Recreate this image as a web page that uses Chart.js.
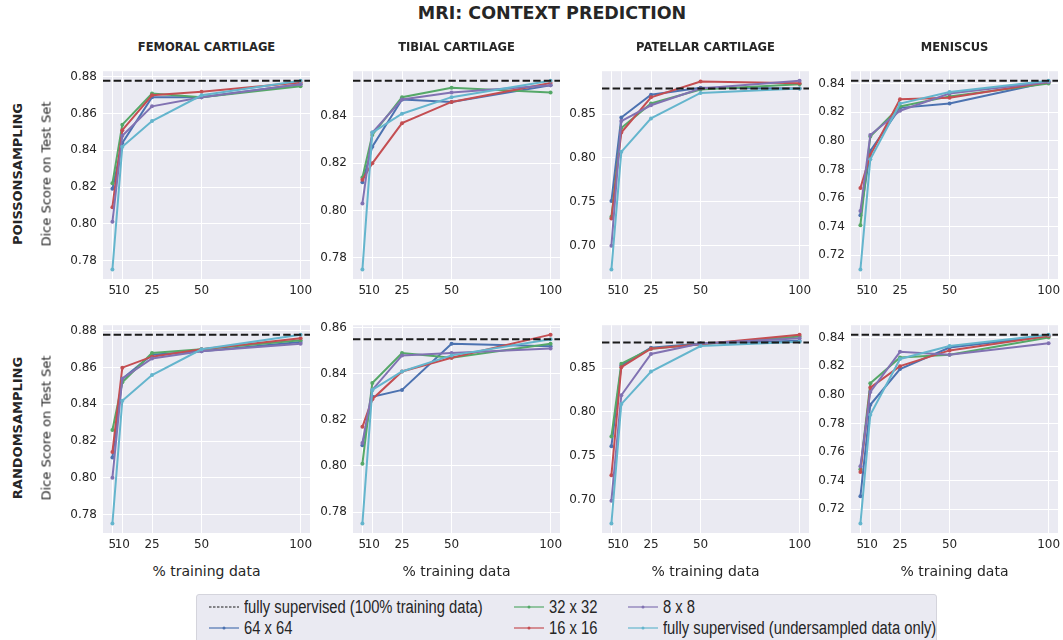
<!DOCTYPE html>
<html>
<head>
<meta charset="utf-8">
<script src="https://cdn.jsdelivr.net/npm/chart.js@4/dist/chart.umd.min.js"></script>
<style>
  body { margin: 0; width: 1063px; height: 640px; background: #fff; position: relative; overflow: hidden;
         font-family: 'DejaVu Sans', sans-serif; color: #262626; }
  .txt { position: absolute; white-space: nowrap; transform: translate(-50%, -50%); }
  .rot { transform: translate(-50%, -50%) rotate(-90deg); }
  canvas { position: absolute; }
  #legend { position: absolute; left: 196px; top: 594px; width: 741px; height: 50px; box-sizing: border-box;
            background: #EAEAF2; border: 1px solid #D4D4DC; border-radius: 3px;
            font-family: 'Liberation Sans', Arial, sans-serif; font-size: 18px; color: #262626; }
  .item { position: absolute; height: 20px; line-height: 20px; }
  .item svg { position: absolute; left: 0; top: 0; }
  .item span { position: absolute; left: 35px; top: 0; white-space: nowrap;
               transform: scaleX(0.82); transform-origin: left center; }
</style>
</head>
<body>
<div class="txt" style="left:552px;top:13px;font-weight:bold;font-size:17.5px">MRI: CONTEXT PREDICTION</div>
<div id="legend"></div>

<script>
// x positions (% training data) and labels
const xPct = [5, 10, 25, 50, 100];
const organs = ['FEMORAL CARTILAGE', 'TIBIAL CARTILAGE', 'PATELLAR CARTILAGE', 'MENISCUS'];
const samplings = ['POISSONSAMPLING', 'RANDOMSAMPLING'];
const seriesNames = ['64 x 64', '32 x 32', '16 x 16', '8 x 8', 'fully supervised (undersampled data only)'];
const fullyName = 'fully supervised (100% training data)';
const seriesColors = ['#4C72B0', '#55A868', '#C44E52', '#8172B2', '#64B5CD'];

// fully supervised reference (100% training data), one per organ
const fullyValue = [0.878, 0.855, 0.879, 0.842];

// rows: 64x64, 32x32, 16x16, 8x8, fully supervised (undersampled)
const poissonFemoral = [
  [0.819, 0.844, 0.869, 0.869, 0.876],
  [0.822, 0.854, 0.871, 0.869, 0.875],
  [0.809, 0.851, 0.870, 0.872, 0.877],
  [0.801, 0.848, 0.864, 0.869, 0.876],
  [0.775, 0.842, 0.856, 0.870, 0.878]
];
const poissonTibial = [
  [0.812, 0.827, 0.847, 0.846, 0.853],
  [0.814, 0.832, 0.848, 0.852, 0.850],
  [0.813, 0.820, 0.837, 0.846, 0.854],
  [0.803, 0.833, 0.847, 0.850, 0.853],
  [0.775, 0.833, 0.841, 0.848, 0.855]
];
const poissonPatellar = [
  [0.751, 0.846, 0.872, 0.880, 0.879],
  [0.733, 0.834, 0.862, 0.878, 0.884],
  [0.731, 0.829, 0.869, 0.887, 0.885],
  [0.700, 0.842, 0.860, 0.879, 0.888],
  [0.673, 0.807, 0.845, 0.874, 0.879]
];
const poissonMeniscus = [
  [0.748, 0.793, 0.823, 0.826, 0.841],
  [0.741, 0.803, 0.824, 0.831, 0.840],
  [0.767, 0.790, 0.829, 0.830, 0.841],
  [0.751, 0.804, 0.821, 0.833, 0.841],
  [0.710, 0.787, 0.826, 0.834, 0.842]
];
const randomFemoral = [
  [0.811, 0.854, 0.867, 0.869, 0.874],
  [0.826, 0.852, 0.868, 0.870, 0.875],
  [0.814, 0.860, 0.866, 0.870, 0.876],
  [0.800, 0.854, 0.865, 0.869, 0.873],
  [0.775, 0.842, 0.856, 0.870, 0.878]
];
const randomTibial = [
  [0.809, 0.830, 0.833, 0.853, 0.852],
  [0.801, 0.836, 0.849, 0.847, 0.853],
  [0.817, 0.829, 0.841, 0.847, 0.857],
  [0.810, 0.833, 0.848, 0.849, 0.851],
  [0.775, 0.833, 0.841, 0.848, 0.855]
];
const randomPatellar = [
  [0.761, 0.853, 0.873, 0.878, 0.881],
  [0.772, 0.855, 0.872, 0.877, 0.886],
  [0.728, 0.851, 0.872, 0.877, 0.888],
  [0.699, 0.819, 0.866, 0.878, 0.884],
  [0.673, 0.809, 0.846, 0.875, 0.880]
];
const randomMeniscus = [
  [0.729, 0.793, 0.818, 0.833, 0.841],
  [0.748, 0.808, 0.826, 0.828, 0.840],
  [0.746, 0.805, 0.820, 0.831, 0.841],
  [0.750, 0.802, 0.830, 0.828, 0.836],
  [0.710, 0.786, 0.825, 0.834, 0.842]
];

// y tick labels per panel
const ticksFemoral = [0.78, 0.80, 0.82, 0.84, 0.86, 0.88];
const ticksTibialTop = [0.78, 0.80, 0.82, 0.84];
const ticksTibialBottom = [0.78, 0.80, 0.82, 0.84, 0.86];
const ticksPatellar = [0.70, 0.75, 0.80, 0.85];
const ticksMeniscus = [0.72, 0.74, 0.76, 0.78, 0.80, 0.82, 0.84];

const panelValues = [
  [poissonFemoral, poissonTibial, poissonPatellar, poissonMeniscus],
  [randomFemoral, randomTibial, randomPatellar, randomMeniscus]
];
const panelTicks = [
  [ticksFemoral, ticksTibialTop, ticksPatellar, ticksMeniscus],
  [ticksFemoral, ticksTibialBottom, ticksPatellar, ticksMeniscus]
];

// layout of the plot areas
const colLeft = [103, 353, 602, 851];
const rowTop = [68, 322];
const plotW = 207, plotH = 211;
const padL = 52, padT = 10, padR = 14, padB = 24;
const textColor = '#262626';
const tickFont = { family: 'DejaVu Sans', size: 12 };

// matplotlib-like 5% margins
const xPad = (Math.max(...xPct) - Math.min(...xPct)) * 0.05;
const xMin = Math.min(...xPct) - xPad, xMax = Math.max(...xPct) + xPad;

const bgPlugin = {
  id: 'bg',
  beforeDraw(chart) {
    const a = chart.chartArea, c = chart.ctx;
    c.save();
    c.fillStyle = '#EAEAF2';
    c.fillRect(a.left, a.top, a.right - a.left, a.bottom - a.top);
    c.restore();
  }
};

function addText(str, x, y, style, cls) {
  const d = document.createElement('div');
  d.className = 'txt' + (cls ? ' ' + cls : '');
  d.textContent = str;
  d.style.left = x + 'px';
  d.style.top = y + 'px';
  d.style.cssText += style;
  document.body.appendChild(d);
}

for (let r = 0; r < 2; r++) {
  for (let c = 0; c < 4; c++) {
    const values = panelValues[r][c];
    const ref = fullyValue[c];
    const all = values.flat().concat([ref]);
    const lo = Math.min(...all), hi = Math.max(...all);
    const yPad = (hi - lo) * 0.05;

    const canvas = document.createElement('canvas');
    const w = plotW + padL + padR, h = plotH + padT + padB;
    canvas.width = w; canvas.height = h;
    canvas.style.width = w + 'px'; canvas.style.height = h + 'px';
    canvas.style.left = (colLeft[c] - padL) + 'px';
    canvas.style.top = (rowTop[r] - padT) + 'px';
    document.body.appendChild(canvas);

    const datasets = values.map((vals, i) => ({
      label: seriesNames[i],
      data: vals.map((v, j) => ({ x: xPct[j], y: v })),
      borderColor: seriesColors[i],
      backgroundColor: seriesColors[i],
      borderWidth: 2,
      pointRadius: 2,
      pointBorderWidth: 0,
      order: 5 - i
    }));
    datasets.push({
      label: fullyName,
      data: [{ x: xMin, y: ref }, { x: xMax, y: ref }],
      borderColor: '#1a1a1a',
      borderWidth: 2,
      borderDash: [7.4, 3.2],
      pointRadius: 0,
      order: 0
    });

    new Chart(canvas, {
      type: 'line',
      data: { datasets: datasets },
      options: {
        responsive: false,
        animation: false,
        devicePixelRatio: 1,
        layout: { padding: { top: padT, right: padR, left: 0, bottom: 0 } },
        plugins: { legend: { display: false }, tooltip: { enabled: false } },
        scales: {
          x: {
            type: 'linear', min: xMin, max: xMax,
            afterBuildTicks: a => { a.ticks = xPct.map(v => ({ value: v })); },
            afterFit: s => { s.height = padB; },
            ticks: { autoSkip: false, maxRotation: 0, padding: 5, color: textColor, font: tickFont,
                     callback: v => String(v) },
            grid: { color: '#ffffff', lineWidth: 1, drawTicks: false },
            border: { display: false }
          },
          y: {
            type: 'linear', min: lo - yPad, max: hi + yPad,
            afterBuildTicks: a => { a.ticks = panelTicks[r][c].map(v => ({ value: v })); },
            afterFit: s => { s.width = padL; },
            ticks: { padding: 6, color: textColor, font: tickFont, callback: v => v.toFixed(2) },
            grid: { color: '#ffffff', lineWidth: 1, drawTicks: false },
            border: { display: false }
          }
        }
      },
      plugins: [bgPlugin]
    });

    const cx = colLeft[c] + plotW / 2;
    if (r === 0) addText(organs[c], cx, 47, 'font-weight:bold;font-size:11.5px');
    if (r === 1) addText('% training data', cx, 571, 'font-size:14px');
    if (c === 0) {
      const cy = rowTop[r] + plotH / 2;
      addText(samplings[r], 17, cy, 'font-weight:bold;font-size:13px', 'rot');
      addText('Dice Score on Test Set', 46, cy, 'font-size:13px', 'rot');
    }
  }
}

// legend, 3 columns x 2 rows as in the original
const legendItems = [
  { name: fullyName, color: '#1a1a1a', dash: true, x: 12, y: 2 },
  { name: seriesNames[0], color: seriesColors[0], x: 12, y: 23 },
  { name: seriesNames[1], color: seriesColors[1], x: 317, y: 2 },
  { name: seriesNames[2], color: seriesColors[2], x: 317, y: 23 },
  { name: seriesNames[3], color: seriesColors[3], x: 431, y: 2 },
  { name: seriesNames[4], color: seriesColors[4], x: 431, y: 23 }
];
const legend = document.getElementById('legend');
legendItems.forEach(it => {
  const d = document.createElement('div');
  d.className = 'item';
  d.style.left = it.x + 'px';
  d.style.top = it.y + 'px';
  const line = it.dash
    ? `<line x1="0" y1="10" x2="30" y2="10" stroke="${it.color}" stroke-width="1" stroke-dasharray="2.5,1.5"/>`
    : `<line x1="0" y1="10" x2="30" y2="10" stroke="${it.color}" stroke-width="1.2"/><circle cx="15" cy="10" r="1.5" fill="${it.color}"/>`;
  d.innerHTML = `<svg width="30" height="20">${line}</svg><span>${it.name}</span>`;
  legend.appendChild(d);
});
</script>
</body>
</html>
